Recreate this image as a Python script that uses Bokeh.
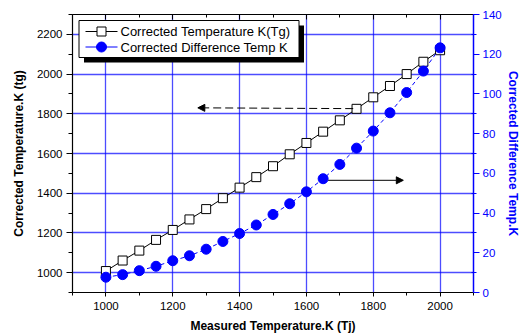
from bokeh.plotting import figure
from bokeh.models import (LinearAxis, Range1d, FixedTicker, Arrow, NormalHead,
                          ColumnDataSource)
from bokeh.core.properties import value
from bokeh.embed import file_html
from bokeh.resources import INLINE

# ---- data ----
measured_tj = [1000, 1050, 1100, 1150, 1200, 1250, 1300, 1350, 1400, 1450, 1500,
               1550, 1600, 1650, 1700, 1750, 1800, 1850, 1900, 1950, 2000]
corrected_tg = [1008, 1061, 1111, 1165, 1215, 1268, 1320, 1375, 1428, 1481, 1536,
                1596, 1653, 1710, 1767, 1825, 1883, 1940, 2000, 2062, 2120]
diff_temp = [7.7, 9.0, 11.0, 13.2, 16.0, 18.5, 21.8, 25.7, 29.7, 34.0, 39.3,
             44.7, 50.7, 57.3, 64.5, 72.7, 81.3, 90.5, 100.7, 111.5, 123.2]

x_ticks = [1000, 1200, 1400, 1600, 1800, 2000]
x_minor = [900, 1100, 1300, 1500, 1700, 1900, 2100]
yl_ticks = [1000, 1200, 1400, 1600, 1800, 2000, 2200]
yl_minor = [900, 1100, 1300, 1500, 1700, 1900, 2100, 2300]
yr_ticks = [0, 20, 40, 60, 80, 100, 120, 140]
yr_minor = [10, 30, 50, 70, 90, 110, 130]

series_labels = ["Corrected Temperature K(Tg)", "Corrected Difference Temp K"]
x_title = "Measured Temperature.K (Tj)"
yl_title = "Corrected Temperature.K (tg)"
yr_title = "Corrected Difference Temp.K"

# arrow annotations (data coordinates)
arrow_left_x = (1740, 1275)
arrow_left_y = (1826, 1830)
arrow_right_x = (1665, 1890)
arrow_right_y = (56.5, 56.5)

X0, X1, YL0, YL1, YR0, YR1 = 900, 2100, 900, 2300, 0, 140

FONT = "Liberation Sans"
BLUE = "#0000ff"

W, H = 528, 336
BL, BR, BT, BB = 72, 55, 14, 44
FRAME_W, FRAME_H = W - BL - BR, H - BT - BB

src = ColumnDataSource(dict(x=measured_tj, tg=corrected_tg, d=diff_temp))

p = figure(width=W, height=H, x_range=Range1d(X0, X1), y_range=Range1d(YL0, YL1),
           output_backend="svg", toolbar_location=None,
           min_border_left=BL, min_border_right=BR, min_border_top=BT, min_border_bottom=BB,
           x_axis_label=x_title, y_axis_label=yl_title)
p.extra_y_ranges = {"right": Range1d(YR0, YR1)}
p.outline_line_color = None
p.background_fill_color = "white"
p.border_fill_color = "white"

# grids
p.xgrid.ticker = FixedTicker(ticks=x_ticks)
p.ygrid.ticker = FixedTicker(ticks=yl_ticks)
for g in (p.xgrid[0], p.ygrid[0]):
    g.grid_line_color = BLUE
    g.grid_line_alpha = 0.7
    g.grid_line_width = 1.3

def style_axis(ax, color="black"):
    ax.axis_line_color = color
    ax.axis_line_width = 1.2
    ax.major_tick_line_color = color
    ax.minor_tick_line_color = color
    ax.major_label_text_color = color
    ax.axis_label_text_color = color
    ax.major_label_text_font = FONT
    ax.major_label_text_font_size = "11.5px"
    ax.axis_label_text_font = FONT
    ax.axis_label_text_font_size = "12px"
    ax.axis_label_text_font_style = "bold"

xa = p.xaxis[0]
xa.ticker = FixedTicker(ticks=x_ticks, minor_ticks=x_minor)
style_axis(xa)
xa.major_tick_in = 0
xa.major_tick_out = 4
xa.minor_tick_in = 0
xa.minor_tick_out = 3
xa.major_label_standoff = 5
xa.axis_label_standoff = 6

ya = p.yaxis[0]
ya.ticker = FixedTicker(ticks=yl_ticks, minor_ticks=yl_minor)
style_axis(ya)
ya.major_tick_in = 0
ya.major_tick_out = 6
ya.minor_tick_in = 0
ya.minor_tick_out = 4
ya.major_label_standoff = 4
ya.axis_label_standoff = 8

ra = LinearAxis(y_range_name="right", axis_label=yr_title,
                ticker=FixedTicker(ticks=yr_ticks, minor_ticks=yr_minor))
style_axis(ra, BLUE)
ra.axis_line_width = 1.5
ra.major_tick_in = 0
ra.major_tick_out = 6
ra.minor_tick_in = 2
ra.minor_tick_out = 3
ra.major_label_standoff = 3
ra.axis_label_standoff = 1
p.add_layout(ra, "right")

ta = LinearAxis(ticker=FixedTicker(ticks=x_ticks, minor_ticks=x_minor))
style_axis(ta)
ta.major_tick_in = 5
ta.major_tick_out = 0
ta.minor_tick_in = 3
ta.minor_tick_out = 0
ta.major_label_overrides = {t: "" for t in x_ticks}
ta.major_label_text_font_size = "0px"
ta.major_label_standoff = 0
p.add_layout(ta, "above")

# series
p.line("x", "tg", source=src, line_color="black", line_width=1)
p.scatter("x", "tg", source=src, marker="square", size=9,
          fill_color="white", line_color="black", line_width=1)
p.line("x", "d", source=src, y_range_name="right", line_color=BLUE,
       line_width=1, line_dash="4 3")
p.scatter("x", "d", source=src, y_range_name="right", marker="circle", size=10,
          fill_color=BLUE, line_color=BLUE)

# arrows
p.add_layout(Arrow(end=NormalHead(size=7, fill_color="black", line_color="black"),
                   x_start=arrow_left_x[0], y_start=arrow_left_y[0],
                   x_end=arrow_left_x[1], y_end=arrow_left_y[1],
                   line_color="black", line_width=1, line_dash="8 4"))
p.add_layout(Arrow(end=NormalHead(size=7, fill_color="black", line_color="black"),
                   x_start=arrow_right_x[0], y_start=arrow_right_y[0],
                   x_end=arrow_right_x[1], y_end=arrow_right_y[1],
                   y_range_name="right", line_color="black", line_width=1))

# ---- legend box with drop shadow, drawn as glyphs (pixel offsets from frame top-left) ----
xpp = (X1 - X0) / FRAME_W
ypp = (YL1 - YL0) / FRAME_H
def fx(px):
    return X0 + px * xpp
def fy(py):
    return YL1 - py * ypp

BOX_L, BOX_T, BOX_W, BOX_H, SH = 6.5, 6, 220, 37, 5
ROW_Y = [17, 32.5]
GL0, GL1, TXT_X = 13, 45, 48

p.quad(left=[fx(BOX_L + SH)], right=[fx(BOX_L + BOX_W + SH)],
       top=[fy(BOX_T + SH)], bottom=[fy(BOX_T + BOX_H + SH)],
       fill_color="black", line_color=None)
p.quad(left=[fx(BOX_L)], right=[fx(BOX_L + BOX_W)],
       top=[fy(BOX_T)], bottom=[fy(BOX_T + BOX_H)],
       fill_color="white", line_color="black", line_width=1)
p.segment(x0=[fx(GL0)], y0=[fy(ROW_Y[0])], x1=[fx(GL1)], y1=[fy(ROW_Y[0])],
          line_color="black", line_width=1)
p.scatter(x=[fx((GL0 + GL1) / 2)], y=[fy(ROW_Y[0])], marker="square", size=9,
          fill_color="white", line_color="black", line_width=1)
p.segment(x0=[fx(GL0)], y0=[fy(ROW_Y[1])], x1=[fx(GL1)], y1=[fy(ROW_Y[1])],
          line_color=BLUE, line_width=1)
p.scatter(x=[fx((GL0 + GL1) / 2)], y=[fy(ROW_Y[1])], marker="circle", size=10,
          fill_color=BLUE, line_color=BLUE)
p.text(x=[fx(TXT_X), fx(TXT_X)], y=[fy(ROW_Y[0]), fy(ROW_Y[1])], text=series_labels,
       text_font=value(FONT), text_font_size="13px", text_color="black",
       text_baseline="middle", text_align="left")

open("out.html", "w").write(file_html(p, INLINE))
